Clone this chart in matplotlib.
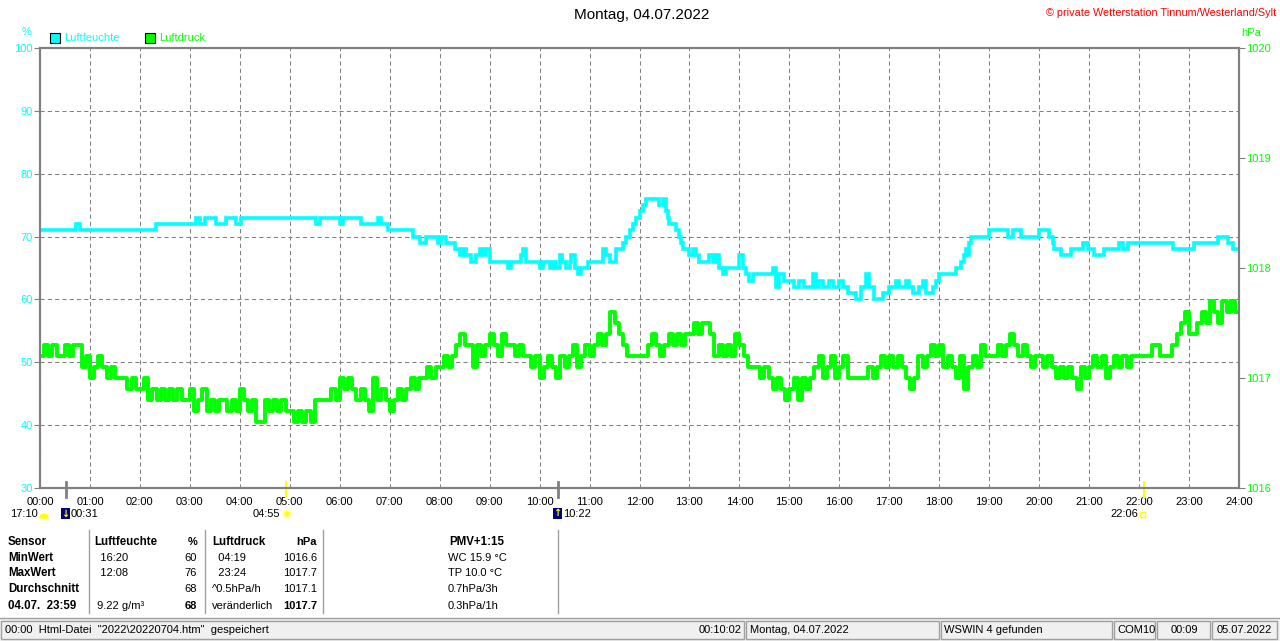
import numpy as np
import matplotlib.pyplot as plt
import matplotlib.transforms as mtransforms
from matplotlib.patches import Rectangle, Wedge, Circle
from matplotlib.lines import Line2D

plt.rcParams['font.family'] = ['Liberation Sans', 'DejaVu Sans']
plt.rcParams['font.size'] = 8

W, H = 1280, 641
CYAN = '#00ffff'
GRUEN = '#00ff00'
GRAU = '#808080'

# Luftfeuchte: Zeitpunkt (Stunden) der Aenderung und neuer Wert in %
hum_t = [0.0, 0.72, 0.80, 2.33, 3.12, 3.20, 3.30, 3.53, 3.73, 3.93, 4.03, 5.53, 5.60, 6.00, 6.07,
         6.43, 6.77, 6.83, 6.97, 7.47, 7.60, 7.73, 7.97, 8.03, 8.13, 8.30, 8.40, 8.47, 8.53, 8.63,
         8.73, 8.80, 8.87, 8.93, 9.00, 9.37, 9.43, 9.63, 9.67, 9.73, 10.00, 10.07, 10.20, 10.27,
         10.33, 10.40, 10.45, 10.53, 10.60, 10.63, 10.70, 10.77, 10.83, 10.97, 11.27, 11.33, 11.40,
         11.53, 11.67, 11.73, 11.80, 11.87, 11.93, 12.00, 12.07, 12.13, 12.40, 12.47, 12.53, 12.57,
         12.60, 12.73, 12.80, 12.83, 12.87, 13.00, 13.07, 13.13, 13.20, 13.40, 13.47, 13.53, 13.60,
         13.67, 13.73, 14.00, 14.07, 14.13, 14.20, 14.27, 14.67, 14.73, 14.80, 14.90, 15.00, 15.10,
         15.20, 15.30, 15.47, 15.53, 15.60, 15.67, 15.80, 15.87, 16.00, 16.07, 16.17, 16.33, 16.43,
         16.53, 16.60, 16.70, 16.87, 17.00, 17.13, 17.20, 17.33, 17.40, 17.47, 17.60, 17.67, 17.73,
         17.87, 17.93, 18.00, 18.33, 18.43, 18.50, 18.53, 18.57, 18.60, 18.63, 19.00, 19.37, 19.47,
         19.63, 20.00, 20.20, 20.27, 20.30, 20.43, 20.63, 20.87, 20.97, 21.10, 21.30, 21.60, 21.67,
         21.77, 22.67, 23.10, 23.57, 23.77, 23.87, 24.00]
hum_v = [71, 72, 71, 72, 73, 72, 73, 72, 73, 72, 73, 72, 73, 72, 73,
         72, 73, 72, 71, 70, 69, 70, 69, 70, 69, 68, 67, 68, 67, 66,
         67, 68, 67, 68, 66, 65, 66, 67, 68, 66, 65, 66, 65, 66,
         65, 67, 66, 65, 66, 67, 65, 64, 65, 66, 68, 67, 66,
         68, 69, 70, 71, 72, 73, 74, 75, 76, 75, 76, 74, 73,
         72, 71, 70, 69, 68, 67, 68, 67, 66, 67, 66, 67, 65,
         64, 65, 67, 65, 64, 63, 64, 65, 62, 64, 63, 63, 62,
         63, 62, 64, 62, 63, 62, 63, 62, 63, 62, 61, 60, 62,
         64, 62, 60, 61, 62, 63, 62, 63, 62, 61, 62, 63, 61,
         62, 63, 64, 65, 66, 67, 68, 67, 69, 70, 71, 70, 71,
         70, 71, 70, 69, 68, 67, 68, 69, 68, 67, 68, 69, 68,
         69, 68, 69, 70, 69, 68, 68]

# Luftdruck in hPa, alle 5 Minuten (eine Zeile je Stunde)
druck = [
    1017.2, 1017.3, 1017.2, 1017.3, 1017.2, 1017.2, 1017.3, 1017.2, 1017.3, 1017.3, 1017.1, 1017.2,
    1017.0, 1017.1, 1017.2, 1017.1, 1017.0, 1017.1, 1017.0, 1017.0, 1017.0, 1016.9, 1017.0, 1016.9,
    1016.9, 1017.0, 1016.8, 1016.9, 1016.8, 1016.9, 1016.8, 1016.9, 1016.8, 1016.9, 1016.8, 1016.8,
    1016.9, 1016.7, 1016.8, 1016.9, 1016.7, 1016.8, 1016.7, 1016.8, 1016.8, 1016.7, 1016.8, 1016.7,
    1016.9, 1016.8, 1016.7, 1016.8, 1016.6, 1016.6, 1016.8, 1016.7, 1016.8, 1016.7, 1016.8, 1016.7,
    1016.7, 1016.6, 1016.7, 1016.6, 1016.7, 1016.6, 1016.8, 1016.8, 1016.8, 1016.8, 1016.9, 1016.8,
    1017.0, 1016.9, 1017.0, 1016.9, 1016.8, 1016.9, 1016.8, 1016.7, 1017.0, 1016.8, 1016.9, 1016.8,
    1016.7, 1016.8, 1016.9, 1016.8, 1016.9, 1017.0, 1016.9, 1017.0, 1017.0, 1017.1, 1017.0, 1017.1,
    1017.1, 1017.2, 1017.1, 1017.2, 1017.3, 1017.4, 1017.3, 1017.3, 1017.1, 1017.3, 1017.2, 1017.3,
    1017.4, 1017.3, 1017.2, 1017.4, 1017.3, 1017.3, 1017.2, 1017.3, 1017.2, 1017.2, 1017.1, 1017.2,
    1017.0, 1017.1, 1017.2, 1017.1, 1017.0, 1017.2, 1017.1, 1017.2, 1017.3, 1017.1, 1017.2, 1017.3,
    1017.2, 1017.3, 1017.4, 1017.3, 1017.4, 1017.6, 1017.5, 1017.4, 1017.3, 1017.2, 1017.2, 1017.2,
    1017.2, 1017.2, 1017.3, 1017.4, 1017.3, 1017.2, 1017.3, 1017.4, 1017.3, 1017.4, 1017.3, 1017.4,
    1017.4, 1017.5, 1017.4, 1017.5, 1017.5, 1017.4, 1017.2, 1017.3, 1017.2, 1017.3, 1017.2, 1017.4,
    1017.3, 1017.2, 1017.1, 1017.1, 1017.1, 1017.0, 1017.1, 1017.0, 1016.9, 1017.0, 1016.9, 1016.8,
    1016.9, 1017.0, 1016.8, 1017.0, 1016.9, 1017.0, 1017.1, 1017.2, 1017.0, 1017.1, 1017.2, 1017.0,
    1017.1, 1017.2, 1017.0, 1017.0, 1017.0, 1017.0, 1017.0, 1017.1, 1017.0, 1017.1, 1017.2, 1017.1,
    1017.2, 1017.1, 1017.2, 1017.1, 1017.0, 1016.9, 1017.0, 1017.2, 1017.1, 1017.2, 1017.3, 1017.2,
    1017.3, 1017.1, 1017.2, 1017.1, 1017.0, 1017.2, 1016.9, 1017.1, 1017.2, 1017.1, 1017.3, 1017.2,
    1017.2, 1017.2, 1017.3, 1017.2, 1017.3, 1017.4, 1017.3, 1017.2, 1017.3, 1017.2, 1017.1, 1017.2,
    1017.2, 1017.1, 1017.2, 1017.1, 1017.0, 1017.1, 1017.0, 1017.1, 1017.0, 1016.9, 1017.1, 1017.0,
    1017.1, 1017.2, 1017.1, 1017.2, 1017.0, 1017.1, 1017.2, 1017.1, 1017.2, 1017.1, 1017.2, 1017.2,
    1017.2, 1017.2, 1017.2, 1017.3, 1017.3, 1017.2, 1017.2, 1017.2, 1017.3, 1017.4, 1017.5, 1017.6,
    1017.4, 1017.4, 1017.5, 1017.6, 1017.5, 1017.7, 1017.6, 1017.5, 1017.7, 1017.6, 1017.7, 1017.6,
]

stunden = [f'{h:02d}:00' for h in range(25)]
mond = ['00:31', '10:22']
sonne = ['04:55', '22:06']

tabelle = [
    ('Sensor', 'Luftfeuchte', '%', 'Luftdruck', 'hPa', 'PMV+1:15'),
    ('MinWert', '  16:20', '60', '  04:19', '1016.6', 'WC 15.9 °C'),
    ('MaxWert', '  12:08', '76', '  23:24', '1017.7', 'TP 10.0 °C'),
    ('Durchschnitt', '', '68', '^0.5hPa/h', '1017.1', '0.7hPa/3h'),
    ('04.07.  23:59', ' 9.22 g/m³', '68', 'veränderlich', '1017.7', '0.3hPa/1h'),
]

statusfelder = [
    (5, 'left', '00:00  Html-Datei  "2022\\20220704.htm"  gespeichert'),
    (742, 'right', '00:10:02'),
    (750, 'left', 'Montag, 04.07.2022'),
    (944, 'left', 'WSWIN 4 gefunden'),
    (1117, 'left', 'COM10'),
    (1184, 'center', '00:09'),
    (1217, 'left', '05.07.2022'),
]
status_grenzen = [1, 746, 941, 1114, 1157, 1212, 1279]


def zu_stunden(t):
    h, m = t.split(':')
    return int(h) + int(m) / 60


def fy(y):
    return 1 - y / H


fig = plt.figure(figsize=(W / 100, H / 100), dpi=100)
ax = fig.add_axes([40 / W, fy(488), 1199 / W, 440 / H])
ax2 = ax.twinx()

ax.step(hum_t, hum_v, where='post', color=CYAN, linewidth=2.6, solid_joinstyle='miter')
zeit_p = np.arange(len(druck) + 1) / 12
ax2.step(zeit_p, druck + [druck[-1]], where='post', color=GRUEN, linewidth=2.8)

ax.set_xlim(0, 24)
ax.set_ylim(30, 100)
ax2.set_ylim(1016, 1020)
ax.set_xticks(range(25))
ax.set_xticklabels(stunden)
ax.set_yticks(range(30, 101, 10))
ax2.set_yticks(range(1016, 1021))
ax.grid(True, color=GRAU, linestyle=(0, (4, 3)), linewidth=0.75)
ax.tick_params(axis='x', length=0, pad=6.5, labelcolor='black', labelsize=8)
ax.tick_params(axis='y', length=4, width=0.8, color=GRAU, labelcolor=CYAN, pad=1, labelsize=8)
ax2.tick_params(axis='y', length=4, width=0.8, color=GRAU, labelcolor=GRUEN, pad=1, labelsize=8)
for a in (ax, ax2):
    for s in a.spines.values():
        s.set_color(GRAU)
        s.set_linewidth(1.5)

# Titel und Legende
fig.text(642 / W, fy(15), 'Montag, 04.07.2022', ha='center', va='center', fontsize=11)
fig.text(1276 / W, fy(13), '© private Wetterstation Tinnum/Westerland/Sylt', ha='right',
         va='center', color='red', fontsize=7.8)
fig.text(27 / W, fy(32), '%', ha='center', va='center', color=CYAN)
fig.text(1241 / W, fy(33), 'hPa', ha='left', va='center', color=GRUEN)
px = mtransforms.IdentityTransform()
for x0, farbe, name in [(50, CYAN, 'Luftfeuchte'), (145, GRUEN, 'Luftdruck')]:
    fig.add_artist(Rectangle((x0, H - 43), 10, 10, transform=px, facecolor=farbe,
                             edgecolor='black', linewidth=0.8))
    fig.text((x0 + 14) / W, fy(38), name, ha='left', va='center', color=farbe)

# Mond- und Sonnenmarken an der Zeitachse
mark = mtransforms.blended_transform_factory(ax.transData, fig.transFigure)
for t in mond:
    ax.plot([zu_stunden(t)] * 2, [fy(482), fy(497)], transform=mark, color=GRAU,
            linewidth=2, clip_on=False)
for t in sonne:
    ax.plot([zu_stunden(t)] * 2, [fy(482), fy(497)], transform=mark, color='#ffff00',
            linewidth=1.5, clip_on=False)

fig.text(10 / W, fy(514), '17:10', ha='left', va='center')
fig.add_artist(Wedge((44, H - 518), 4, 0, 180, transform=px, color='#ffff00'))
for x0, t, pfeil in [(61, mond[0], '↓'), (553, mond[1], '↑')]:
    fig.add_artist(Rectangle((x0, H - 519), 9, 11, transform=px, facecolor='#000080'))
    fig.text((x0 + 4.5) / W, fy(513.5), pfeil, ha='center', va='center', color='#ffff00',
             fontsize=7, fontweight='bold', family=['DejaVu Sans'])
    fig.text((x0 + 10) / W, fy(514), t, ha='left', va='center')
fig.text(280 / W, fy(514), sonne[0], ha='right', va='center')
fig.add_artist(Circle((287, H - 514), 3.5, transform=px, facecolor='#ffff00',
                      edgecolor='#ffff99', linewidth=1.5))
fig.text(1138 / W, fy(514), sonne[1], ha='right', va='center')
fig.add_artist(Rectangle((1140, H - 517), 5, 5, transform=px, facecolor='none',
                         edgecolor='#ffff00', linewidth=1))

# Tabelle
zeilen_y = [542, 558, 573, 589, 606]
for i, (y, zeile) in enumerate(zip(zeilen_y, tabelle)):
    kopf = i == 0
    fett_wert = i == len(tabelle) - 1
    fig.text(8 / W, fy(y), zeile[0], ha='left', va='center',
             fontweight='bold', fontsize=8.3)
    fig.text(94 / W, fy(y), zeile[1], ha='left', va='center',
             fontweight='bold' if kopf else 'normal', fontsize=8.3 if kopf else 8)
    fig.text(197 / W, fy(y), zeile[2], ha='right', va='center',
             fontweight='bold' if kopf or fett_wert else 'normal')
    fig.text(212 / W, fy(y), zeile[3], ha='left', va='center',
             fontweight='bold' if kopf else 'normal', fontsize=8.3 if kopf else 8)
    fig.text(317 / W, fy(y), zeile[4], ha='right', va='center',
             fontweight='bold' if kopf or fett_wert else 'normal')
    if kopf:
        fig.text(477 / W, fy(y), zeile[5], ha='center', va='center', fontweight='bold',
                 fontsize=8.3)
    else:
        fig.text(448 / W, fy(y), zeile[5], ha='left', va='center')
for x in [89, 205, 323, 558]:
    fig.add_artist(Line2D([x / W, x / W], [fy(530), fy(613)], color='#a0a0a0', linewidth=1))

# Statusleiste
fig.add_artist(Rectangle((0, 0), W, H - 618, transform=px, facecolor='#f0f0f0', zorder=0))
fig.add_artist(Line2D([0, 1], [fy(617.5), fy(617.5)], color='#a0a0a0', linewidth=1))
for x0, x1 in zip(status_grenzen[:-1], status_grenzen[1:]):
    fig.add_artist(Rectangle((x0, H - 639), x1 - x0 - 2, 18, transform=px, facecolor='none',
                             edgecolor='#a0a0a0', linewidth=1))
for x, ausr, txt in statusfelder:
    fig.text(x / W, fy(630), txt, ha=ausr, va='center')

fig.savefig('out.png', dpi=100)
